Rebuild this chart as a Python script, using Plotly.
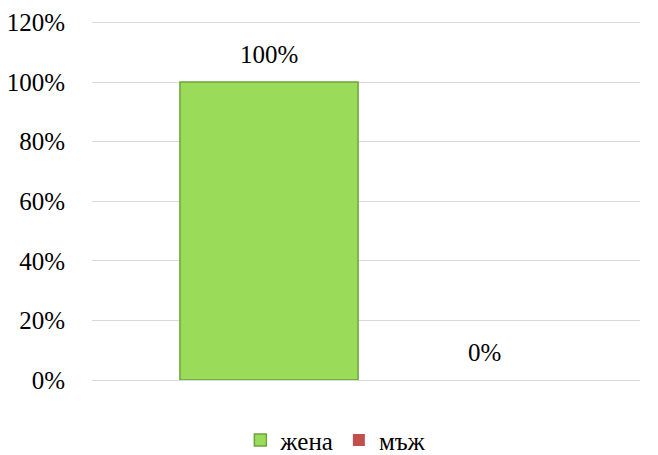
import plotly.graph_objects as go

categories = [""]
series_names = ["жена", "мъж"]
series_values = [[1.0], [0.0]]
series_colors = ["#9BDB5A", "#C0504D"]
series_lines = ["#6FA33A", "#C0504D"]
tick_vals = [0, 0.2, 0.4, 0.6, 0.8, 1.0, 1.2]
tick_text = ["0%", "20%", "40%", "60%", "80%", "100%", "120%"]

font_family = "Liberation Serif, Times New Roman, serif"
FS = 25
bargap = 0.212
bargroupgap = 0.175

fig = go.Figure()
annotations = []
n = len(series_names)
for i, (name, vals) in enumerate(zip(series_names, series_values)):
    fig.add_trace(go.Bar(
        x=categories, y=vals, name=name,
        marker=dict(color=series_colors[i],
                    line=dict(color=series_lines[i], width=1.5 if i == 0 else 0)),
    ))
    offset = (i - (n - 1) / 2) * (1 - bargap) / n
    for ci, v in enumerate(vals):
        annotations.append(dict(
            x=ci + offset, y=v, xref="x", yref="y",
            text=f"{v:.0%}", showarrow=False, yanchor="bottom", yshift=12,
            font=dict(size=FS, family=font_family, color="black"),
        ))

# page body has an 8px default margin, so the figure is sized 8px smaller
fig.update_layout(
    width=650, height=447,
    margin=dict(l=84, r=18, t=12.5, b=75, autoexpand=False),
    paper_bgcolor="white", plot_bgcolor="white",
    barmode="group", bargap=bargap, bargroupgap=bargroupgap,
    font=dict(family=font_family, size=FS, color="black"),
    showlegend=True,
    annotations=annotations,
    legend=dict(orientation="h", x=0.445, xanchor="center", y=-0.168, yanchor="middle",
                font=dict(size=FS, family=font_family), itemwidth=30,
                traceorder="normal"),
    xaxis=dict(showticklabels=False, showgrid=False, zeroline=False, showline=False,
               range=[-0.52, 0.48]),
    yaxis=dict(range=[0, 1.205], tickvals=tick_vals, ticktext=tick_text,
               showgrid=True, gridcolor="#D9D9D9", gridwidth=1,
               zeroline=True, zerolinecolor="#D9D9D9", zerolinewidth=1,
               showline=False, ticks="", ticklabelstandoff=26,
               tickfont=dict(size=FS, family=font_family)),
)

fig.write_html("out.html")
